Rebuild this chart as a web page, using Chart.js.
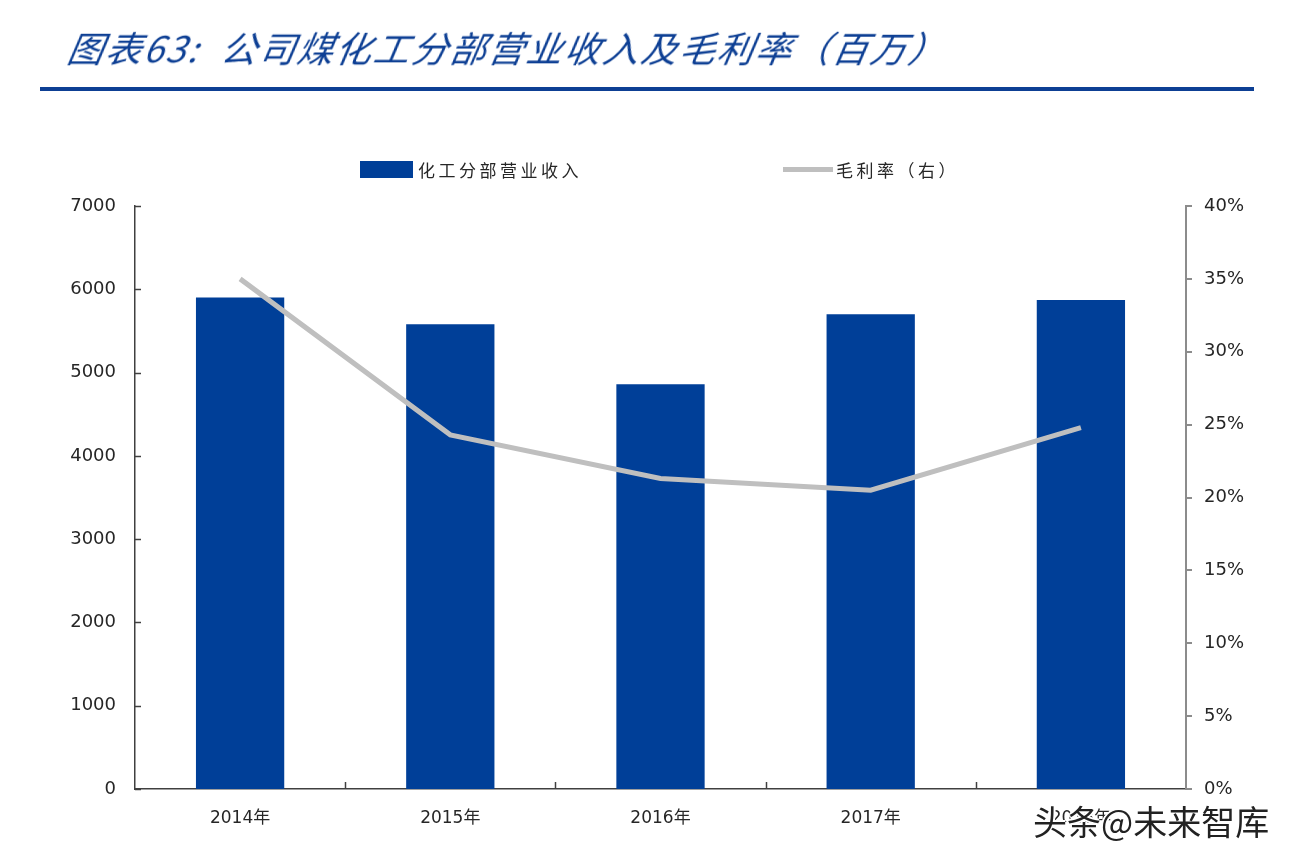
<!DOCTYPE html>
<html lang="zh">
<head>
    <meta charset="UTF-8">
    <title>公司煤化工分部营业收入及毛利率</title>
    <script src="https://cdn.jsdelivr.net/npm/chart.js"></script>
    <style>
        body { margin: 0; background: #fff; }
        #wrap { position: relative; width: 1294px; height: 862px; overflow: hidden; }
        #chart { position: absolute; left: 0; top: 0; }
        .title {
            position: absolute; left: 64px; top: 20px;
            font-family: "Noto Sans CJK SC", sans-serif; font-style: italic;
            font-size: 36px; color: #0d3f94; letter-spacing: 2.2px; white-space: nowrap;
            transform: skewX(-10deg); transform-origin: left bottom;
        }
        .rule { position: absolute; left: 40px; top: 87px; width: 1214px; height: 4px; background: #0d3f94; }
        .legend { position: absolute; top: 154px; font-family: "Noto Sans CJK SC", sans-serif; font-size: 17px; letter-spacing: 3.5px; color: #262626; white-space: nowrap; }
        .legend span { display: inline-block; vertical-align: middle; }
        .box { width: 53px; height: 17px; background: #003f98; margin-right: 5px; }
        .dash { width: 50px; height: 5px; background: #bfbfbf; margin-right: 3px; }
        .mark {
            position: absolute; left: 1033px; top: 796px;
            font-family: "Noto Sans CJK SC", sans-serif; font-size: 34px; color: #222;
            text-shadow: -2px 0 #fff, 2px 0 #fff, 0 -2px #fff, 0 2px #fff, 1px 1px #fff, -1px -1px #fff;
            white-space: nowrap;
        }
    </style>
</head>
<body>
<div id="wrap">
    <canvas id="chart" width="1294" height="862"></canvas>
    <div class="title">图表63:&nbsp; 公司煤化工分部营业收入及毛利率（百万）</div>
    <div class="rule"></div>
    <div class="legend" style="left:360px"><span class="box"></span><span>化工分部营业收入</span></div>
    <div class="legend" style="left:783px"><span class="dash"></span><span>毛利率（右）</span></div>
    <div class="mark">头条@未来智库</div>
</div>

<script>
    const years = ['2014年', '2015年', '2016年', '2017年', '2018年'];
    const revenue = [5900, 5580, 4860, 5700, 5870];
    const grossMargin = [35.0, 24.3, 21.3, 20.5, 24.8];
    const leftTicks = [0, 1000, 2000, 3000, 4000, 5000, 6000, 7000];
    const rightTicks = [0, 5, 10, 15, 20, 25, 30, 35, 40];

    // small inward ticks on the left axis and between categories on the x axis
    const innerTicks = {
        id: 'innerTicks',
        afterDraw(chart) {
            const ctx = chart.ctx;
            const y = chart.scales.y;
            const x = chart.scales.x;
            ctx.save();
            ctx.strokeStyle = '#404040';
            ctx.lineWidth = 1.5;
            leftTicks.forEach(v => {
                const py = Math.round(y.getPixelForValue(v)) + 0.5;
                ctx.beginPath();
                ctx.moveTo(x.left, py);
                ctx.lineTo(x.left + 6, py);
                ctx.stroke();
            });
            for (let i = 1; i < years.length; i++) {
                const px = Math.round((x.getPixelForValue(i - 1) + x.getPixelForValue(i)) / 2) + 0.5;
                ctx.beginPath();
                ctx.moveTo(px, y.bottom);
                ctx.lineTo(px, y.bottom - 7);
                ctx.stroke();
            }
            ctx.restore();
        }
    };

    new Chart(document.getElementById('chart'), {
        data: {
            labels: years,
            datasets: [
                {
                    type: 'line',
                    label: '毛利率（右）',
                    data: grossMargin,
                    yAxisID: 'y1',
                    borderColor: '#bfbfbf',
                    borderWidth: 5,
                    pointRadius: 0,
                    tension: 0,
                    order: 0
                },
                {
                    type: 'bar',
                    label: '化工分部营业收入',
                    data: revenue,
                    yAxisID: 'y',
                    backgroundColor: '#003f98',
                    categoryPercentage: 1,
                    barPercentage: 0.42,
                    order: 1
                }
            ]
        },
        options: {
            responsive: false,
            animation: false,
            layout: { padding: { top: 206, left: 0, right: 0, bottom: 0 } },
            plugins: { legend: { display: false }, tooltip: { enabled: false } },
            scales: {
                x: {
                    grid: { display: false, drawTicks: false },
                    border: { display: true, color: '#404040', width: 1.5 },
                    ticks: { padding: 19, color: '#262626', font: { family: '"DejaVu Sans", "Noto Sans CJK SC"', size: 17 } },
                    afterFit(s) { s.height = 73; }
                },
                y: {
                    position: 'left',
                    min: 0, max: 7000,
                    afterBuildTicks(s) { s.ticks = leftTicks.map(v => ({ value: v })); },
                    grid: { display: false, drawTicks: false },
                    border: { display: true, color: '#404040', width: 1.5 },
                    ticks: { padding: 19, color: '#262626', font: { family: '"DejaVu Sans"', size: 18 }, callback: v => String(v) },
                    afterFit(s) { s.width = 135; }
                },
                y1: {
                    position: 'right',
                    min: 0, max: 40,
                    afterBuildTicks(s) { s.ticks = rightTicks.map(v => ({ value: v })); },
                    grid: { drawOnChartArea: false, drawTicks: true, tickLength: 6, color: '#8c8c8c', lineWidth: 2 },
                    border: { display: true, color: '#8c8c8c', width: 2 },
                    ticks: { padding: 12, color: '#262626', font: { family: '"DejaVu Sans"', size: 18 }, callback: v => v + '%' },
                    afterFit(s) { s.width = 108; }
                }
            }
        },
        plugins: [innerTicks]
    });
</script>
</body>
</html>
